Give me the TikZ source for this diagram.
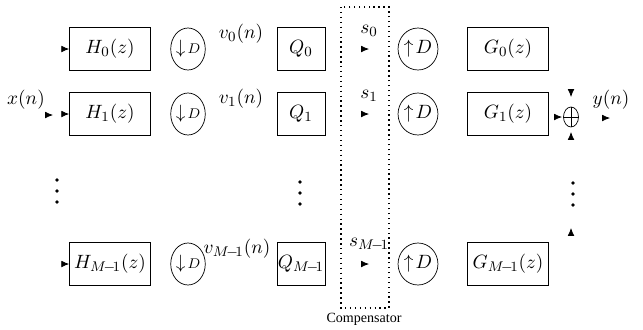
\documentclass[tikz,border=0pt]{standalone}
\usepackage{fontspec}
\setmainfont{Liberation Serif}
\usetikzlibrary{arrows.meta, shapes.geometric, positioning}

\begin{document}
\begin{tikzpicture}[x = 0.02cm, y = -0.02cm, > = {Latex[length = 4.5pt, width = 3.8pt]}, every node/.style = {font = \fontsize{11}{13}\selectfont}]

	% Styles

	\tikzset{
		filt/.style = {draw, minimum width = 1.62cm, minimum height = 0.86cm, inner sep = 0pt},
		quant/.style = {draw, minimum width = 0.96cm, minimum height = 0.86cm, inner sep = 0pt},
		rate/.style = {draw, ellipse, minimum width = 0.62cm, minimum height = 0.84cm, inner sep = 0pt}
	}

	\useasboundingbox (0, 0) rectangle (643, 329);

	% Branches: analysis filter, decimator, quantizer, expander, synthesis filter

	\foreach \r/\y/\vx/\k in {0/49/241/0, 1/114/241/1, 2/264/237/M\!{-}\!1} {
		\node [filt] (h\r) at (110, \y) {$H_{\k}(z)$};
		\node [rate] (dn\r) at (188, \y) {$\downarrow\!{\scriptstyle D}$};
		\node (v\r) at (\vx, \y - 15) {$v_{\k}(n)$};
		\node [quant] (q\r) at (301, \y) {$Q_{\k}$};
		\coordinate (s\r) at (369, \y);
		\node [above = 6pt of s\r, inner sep = 1pt] (lbl\r) {$s_{\k}$};
		\node [rate] (up\r) at (418, \y) {$\uparrow\! D$};
		\node [filt] (g\r) at (508, \y) {$G_{\k}(z)$};
		\draw [->] ([xshift = -1pt] h\r.west) -- (h\r.west);
		\draw [->] ([xshift = -1pt] s\r) -- (s\r);
	}

	% Compensator

	\draw [dotted, thick] (341, 7) rectangle (389, 308);
	\node [font = \footnotesize] (comp) at (364, 319) {Compensator};

	% Input and output

	\node (x) at (26, 100) {$x(n)$};
	\coordinate (xin) at (53, 115);
	\draw [->] ([xshift = -1pt] xin) -- (xin);

	\node [draw, ellipse, minimum width = 0.3cm, minimum height = 0.4cm, inner sep = 0pt] (sum) at (571, 117) {};
	\draw (sum.north) -- (sum.south) (sum.west) -- (sum.east);
	\coordinate (sl) at (562, 117);
	\coordinate (st) at (571, 97);
	\coordinate (sb) at (571, 132);
	\draw [->] ([xshift = -1pt] sl) -- (sl);
	\draw [->] ([yshift = 1pt] st) -- (st);
	\draw [->] ([yshift = -1pt] sb) -- (sb);

	\node (y) at (611, 100) {$y(n)$};
	\coordinate (yout) at (610, 118);
	\draw [->] ([xshift = -1pt] yout) -- (yout);

	% Dots for the omitted branches

	\foreach \x/\y in {57/180, 300/182, 573/183}
		\foreach \d in {0, 11, 22}
			\fill (\x, \y + \d) circle (1.1pt);
	\coordinate (dt) at (571, 228);
	\draw [->] ([yshift = -1pt] dt) -- (dt);

\end{tikzpicture}
\end{document}
